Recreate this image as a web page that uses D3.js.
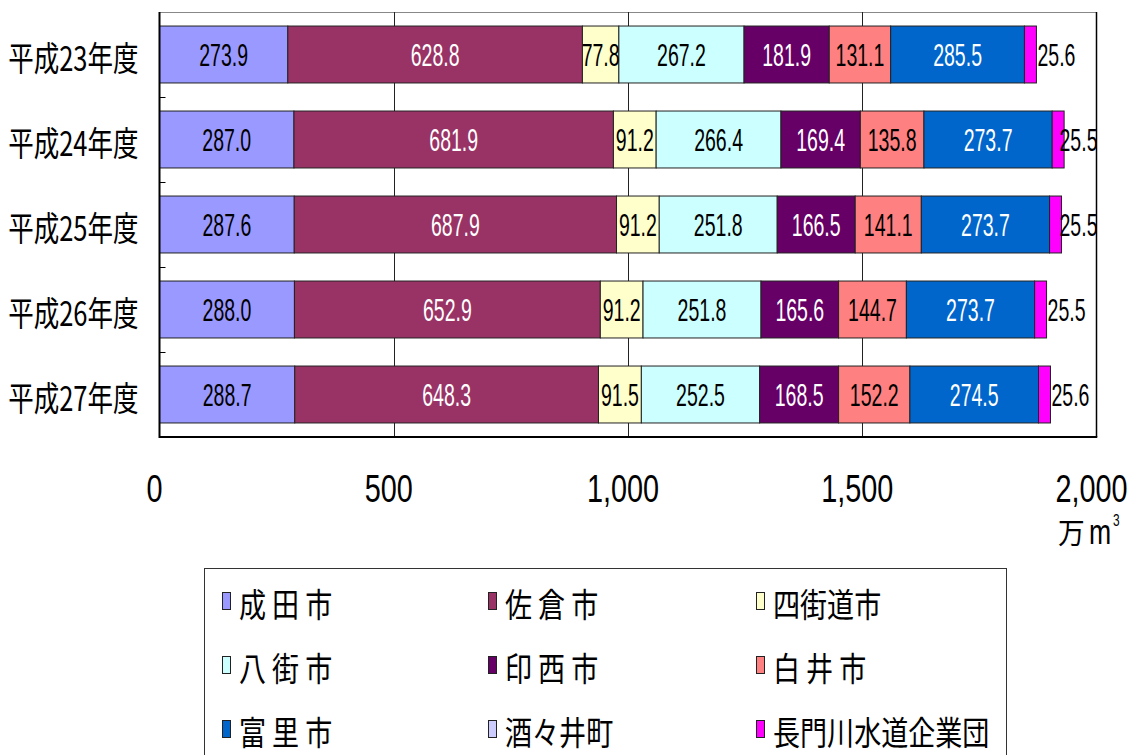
<!DOCTYPE html>
<html lang="ja">
<head>
<meta charset="utf-8">
<script src="https://cdn.jsdelivr.net/npm/d3@7"></script>
<style>
  html, body { margin: 0; padding: 0; background: #fff; }
  svg { display: block; }
  .num { font-family: "Liberation Sans", Arial, sans-serif; }
  .jp { font-family: "Noto Sans CJK JP", sans-serif; }
</style>
</head>
<body>
<svg id="chart" width="1133" height="755"></svg>
<script>
// Fiscal years (rows)
const years = ["平成23年度", "平成24年度", "平成25年度", "平成26年度", "平成27年度"];

// Supplier names, in stacking order
const seriesNames = ["成田市", "佐倉市", "四街道市", "八街市", "印西市", "白井市", "富里市", "酒々井町", "長門川水道企業団"];
// Legend captions (spaced as printed)
const legendLabels = ["成 田 市", "佐 倉 市", "四街道市", "八 街 市", "印 西 市", "白 井 市", "富 里 市", "酒々井町", "長門川水道企業団"];
const seriesColors = ["#9999FF", "#993366", "#FFFFCC", "#CCFFFF", "#660066", "#FF8080", "#0066CC", "#CCCCFF", "#FF00FF"];
const labelColors = ["#000", "#fff", "#000", "#000", "#fff", "#000", "#fff", "#000", "#000"];

// Volumes per year (万m³)
const naritaValues      = [273.9, 287.0, 287.6, 288.0, 288.7];
const sakuraValues      = [628.8, 681.9, 687.9, 652.9, 648.3];
const yotsukaidoValues  = [77.8, 91.2, 91.2, 91.2, 91.5];
const yachimataValues   = [267.2, 266.4, 251.8, 251.8, 252.5];
const inzaiValues       = [181.9, 169.4, 166.5, 165.6, 168.5];
const shiroiValues      = [131.1, 135.8, 141.1, 144.7, 152.2];
const tomisatoValues    = [285.5, 273.7, 273.7, 273.7, 274.5];
const shisuiValues      = [0, 0, 0, 0, 0];
const nagatogawaValues  = [25.6, 25.5, 25.5, 25.5, 25.6];

const xTicks = [0, 500, 1000, 1500, 2000];
const xTickLabels = ["0", "500", "1,000", "1,500", "2,000"];

const seriesValues = [naritaValues, sakuraValues, yotsukaidoValues, yachimataValues,
  inzaiValues, shiroiValues, tomisatoValues, shisuiValues, nagatogawaValues];

// Table for d3.stack
const table = years.map((y, i) => {
  const row = { year: y };
  seriesNames.forEach((n, j) => { row[n] = seriesValues[j][i]; });
  return row;
});

const svg = d3.select("#chart");

// Lettering is condensed horizontally
function place(sel, x, y, sx) {
  return sel.attr("transform", `translate(${x},${y}) scale(${sx},1)`);
}
const SX_VALUE = 0.61, SX_TICK = 0.74, SX_CAT = 0.75, SX_LEGEND = 0.82;

const plot = { left: 159.5, right: 1096.5, top: 12, bottom: 437 };

const x = d3.scaleLinear().domain([0, 2000]).range([plot.left, plot.right]);
const y = d3.scaleBand().domain(years).range([plot.top, plot.bottom])
  .paddingInner(0.33).paddingOuter(0.165);

const stacked = d3.stack().keys(seriesNames)(table);

// Frame
svg.append("rect")
  .attr("x", plot.left).attr("y", plot.top + 0.5)
  .attr("width", plot.right - plot.left).attr("height", plot.bottom - plot.top)
  .attr("fill", "#fff").attr("stroke", "#888").attr("stroke-width", 1);
svg.append("line").attr("x1", plot.right).attr("x2", plot.right)
  .attr("y1", plot.top).attr("y2", plot.bottom).attr("stroke", "#000").attr("stroke-width", 1.5);

// Vertical gridlines
svg.append("g").selectAll("line")
  .data(xTicks.filter(t => t > 0 && t < 2000))
  .join("line")
  .attr("x1", d => Math.round(x(d)) + 0.5).attr("x2", d => Math.round(x(d)) + 0.5)
  .attr("y1", plot.top).attr("y2", plot.bottom)
  .attr("stroke", "#222").attr("stroke-width", 1);

// Bars
const clipId = "plotClip";
svg.append("clipPath").attr("id", clipId).append("rect")
  .attr("x", plot.left).attr("y", plot.top)
  .attr("width", plot.right - plot.left).attr("height", plot.bottom - plot.top);

const barsG = svg.append("g");
stacked.forEach((layer, si) => {
  barsG.append("g").selectAll("rect")
    .data(layer.filter(d => d[1] - d[0] > 0))
    .join("rect")
    .attr("x", d => x(d[0]))
    .attr("y", d => y(d.data.year))
    .attr("width", d => x(d[1]) - x(d[0]))
    .attr("height", y.bandwidth())
    .attr("fill", seriesColors[si])
    .attr("stroke", "#222")
    .attr("stroke-width", 1);
});

// Value labels
const fmt = d3.format(".1f");
const labelsG = svg.append("g").attr("clip-path", `url(#${clipId})`);
stacked.forEach((layer, si) => {
  const last = si === stacked.length - 1;
  layer.filter(d => d[1] - d[0] > 0).forEach(d => {
    const cy = y(d.data.year) + y.bandwidth() / 2 + 1;
    const t = labelsG.append("text")
      .attr("class", "num")
      .attr("font-size", 32)
      .attr("fill", labelColors[si])
      .attr("dominant-baseline", "central")
      .text(fmt(d[1] - d[0]));
    if (last) {
      const w = t.node().getComputedTextLength() * SX_VALUE;
      const lx = Math.min(x(d[1]) + 1, plot.right - w + 1);
      t.attr("text-anchor", "start");
      place(t, lx, cy, SX_VALUE);
    } else {
      t.attr("text-anchor", "middle");
      place(t, (x(d[0]) + x(d[1])) / 2, cy, SX_VALUE);
    }
  });
});

// Axes lines (left and bottom)
svg.append("line").attr("x1", plot.left).attr("x2", plot.left)
  .attr("y1", plot.top).attr("y2", plot.bottom + 1).attr("stroke", "#000").attr("stroke-width", 2);
svg.append("line").attr("x1", plot.left).attr("x2", plot.right + 0.75)
  .attr("y1", plot.bottom).attr("y2", plot.bottom).attr("stroke", "#000").attr("stroke-width", 2);

// Category boundary ticks (inward)
const bounds = years.slice(1).map(yr => y(yr) - y.step() * y.paddingInner() / 2);
svg.append("g").selectAll("line").data(bounds).join("line")
  .attr("x1", plot.left).attr("x2", plot.left + 6)
  .attr("y1", d => Math.round(d) + 0.5).attr("y2", d => Math.round(d) + 0.5)
  .attr("stroke", "#000").attr("stroke-width", 1);

// Category labels
years.forEach(yr => {
  const t = svg.append("text").attr("class", "jp")
    .attr("font-size", 34).attr("fill", "#000")
    .attr("text-anchor", "end").attr("dominant-baseline", "central")
    .text(yr);
  place(t, plot.left - 21, y(yr) + y.bandwidth() / 2 + 2, SX_CAT);
});

// X tick labels
xTicks.forEach((v, i) => {
  const t = svg.append("text").attr("class", "num")
    .attr("font-size", 39).attr("fill", "#000")
    .attr("text-anchor", "middle")
    .text(xTickLabels[i]);
  place(t, x(v) - 5, 502, SX_TICK);
});

// Unit label 万m³
place(svg.append("text").attr("class", "jp").attr("font-size", 29).attr("fill", "#000").text("万"),
  1058, 544, 0.92);
place(svg.append("text").attr("class", "num").attr("font-size", 35).attr("fill", "#000").text("m"),
  1089, 544, 0.76);
place(svg.append("text").attr("class", "num").attr("font-size", 17).attr("fill", "#000").text("3"),
  1113, 526, 0.7);

// Legend
const legend = { left: 204, top: 568, width: 802, height: 200 };
svg.append("rect")
  .attr("x", legend.left + 0.5).attr("y", legend.top + 0.5)
  .attr("width", legend.width).attr("height", legend.height)
  .attr("fill", "#fff").attr("stroke", "#333").attr("stroke-width", 1);

const colX = [18, 284, 552];
const rowY = [34, 98, 162];
seriesNames.forEach((n, i) => {
  const cx = legend.left + colX[i % 3];
  const cy = legend.top + rowY[Math.floor(i / 3)];
  svg.append("rect")
    .attr("x", cx + 0.5).attr("y", cy - 9.5)
    .attr("width", 8).attr("height", 17)
    .attr("fill", seriesColors[i]).attr("stroke", "#222").attr("stroke-width", 1);
  const t = svg.append("text").attr("class", "jp")
    .attr("font-size", 33).attr("fill", "#000")
    .attr("dominant-baseline", "central")
    .style("white-space", "pre")
    .text(legendLabels[i]);
  place(t, cx + 17, cy + 1, SX_LEGEND);
});
</script>
</body>
</html>
